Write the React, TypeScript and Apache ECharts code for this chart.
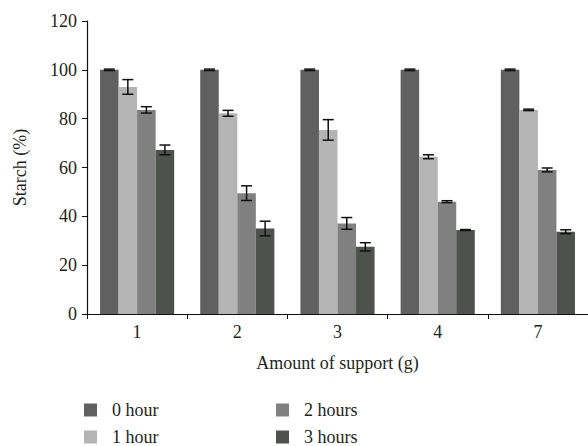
import React, { useEffect, useRef } from "react";
import * as echarts from "echarts";

const categories = ["1", "2", "3", "4", "7"];
const seriesNames = ["0 hour", "1 hour", "2 hours", "3 hours"];
const colors = ["#606060", "#b4b4b4", "#808080", "#4f514f"];
const values = [
  [100, 100, 100, 100, 100],
  [93.0, 82.2, 75.4, 64.4, 83.6],
  [83.6, 49.5, 37.1, 46.0, 59.0],
  [67.2, 35.0, 27.5, 34.4, 33.7],
];
const errors = [
  [0.3, 0.3, 0.3, 0.3, 0.3],
  [3.0, 1.2, 4.2, 0.8, 0.3],
  [1.3, 3.0, 2.4, 0.4, 0.8],
  [2.0, 3.0, 1.7, 0.2, 0.8],
];
const yTicks = { min: 0, max: 120, interval: 20 };

const FONT = "'Liberation Serif', 'DejaVu Serif', serif";
const FS = 18;
const TXT = "#231f20";
const CAT_GAP = 0.26;

export default function App() {
  const ref = useRef<HTMLDivElement>(null);
  useEffect(() => {
    if (!ref.current) return;
    const chart = echarts.init(ref.current, null, { renderer: "svg" });
    const barSeries = seriesNames.map((name, si) => ({
      name,
      type: "bar",
      data: values[si],
      barGap: "0%",
      barCategoryGap: CAT_GAP * 100 + "%",
      itemStyle: { color: colors[si] },
      emphasis: { disabled: true },
    }));
    const errSeries = seriesNames.map((name, si) => ({
      name: name + " err",
      type: "custom",
      z: 10,
      data: values[si].map((v, i) => [i, v, errors[si][i]]),
      encode: { x: 0, y: 1 },
      renderItem: (params: any, api: any) => {
        const ci = api.value(0);
        const v = api.value(1);
        const e = api.value(2);
        const band = api.size([1, 0])[0];
        const bw = (band * (1 - CAT_GAP)) / 4;
        const x = api.coord([ci, v])[0] + (si - 1.5) * bw;
        const yT = api.coord([ci, v + e])[1];
        const yB = api.coord([ci, v - e])[1];
        const cap = 5.5;
        const st = { stroke: "#111", lineWidth: 1.5 };
        return {
          type: "group",
          children: [
            { type: "line", shape: { x1: x, y1: yT, x2: x, y2: yB }, style: st },
            { type: "line", shape: { x1: x - cap, y1: yT, x2: x + cap, y2: yT }, style: st },
            { type: "line", shape: { x1: x - cap, y1: yB, x2: x + cap, y2: yB }, style: st },
          ],
        };
      },
    }));
    const legendCommon = {
      orient: "vertical",
      icon: "rect",
      itemWidth: 13,
      itemHeight: 13,
      itemGap: 9,
      padding: 0,
      height: 60,
      selectedMode: false,
      textStyle: { fontFamily: FONT, fontSize: FS, lineHeight: 18, color: TXT, padding: [0, 0, 0, 10] },
    };
    chart.setOption({
      animation: false,
      textStyle: { fontFamily: FONT },
      grid: { left: 87, right: -10, top: 21, bottom: 132 },
      legend: [
        { ...legendCommon, left: 84, top: 401, data: [seriesNames[0], seriesNames[1]] },
        { ...legendCommon, left: 276, top: 401, data: [seriesNames[2], seriesNames[3]] },
      ],
      xAxis: {
        type: "category",
        data: categories,
        name: "Amount of support (g)",
        nameLocation: "middle",
        nameGap: 40,
        nameTextStyle: { fontFamily: FONT, fontSize: FS, color: TXT },
        axisLine: { lineStyle: { color: "#111", width: 1.2 } },
        axisTick: { show: true, length: 5, lineStyle: { color: "#111" } },
        axisLabel: { fontFamily: FONT, fontSize: FS, color: TXT, margin: 9 },
      },
      yAxis: {
        type: "value",
        ...yTicks,
        name: "Starch (%)",
        nameLocation: "middle",
        nameGap: 58,
        nameTextStyle: { fontFamily: FONT, fontSize: FS, color: TXT },
        splitLine: { show: false },
        axisLine: { show: true, lineStyle: { color: "#111", width: 1.2 } },
        axisTick: { show: true, length: 5, lineStyle: { color: "#111" } },
        axisLabel: { fontFamily: FONT, fontSize: FS, color: TXT, margin: 10 },
      },
      series: [...barSeries, ...errSeries],
    });
    return () => chart.dispose();
  }, []);
  return <div ref={ref} style={{ width: 588, height: 446, position: "absolute", left: 0, top: 0 }} />;
}
